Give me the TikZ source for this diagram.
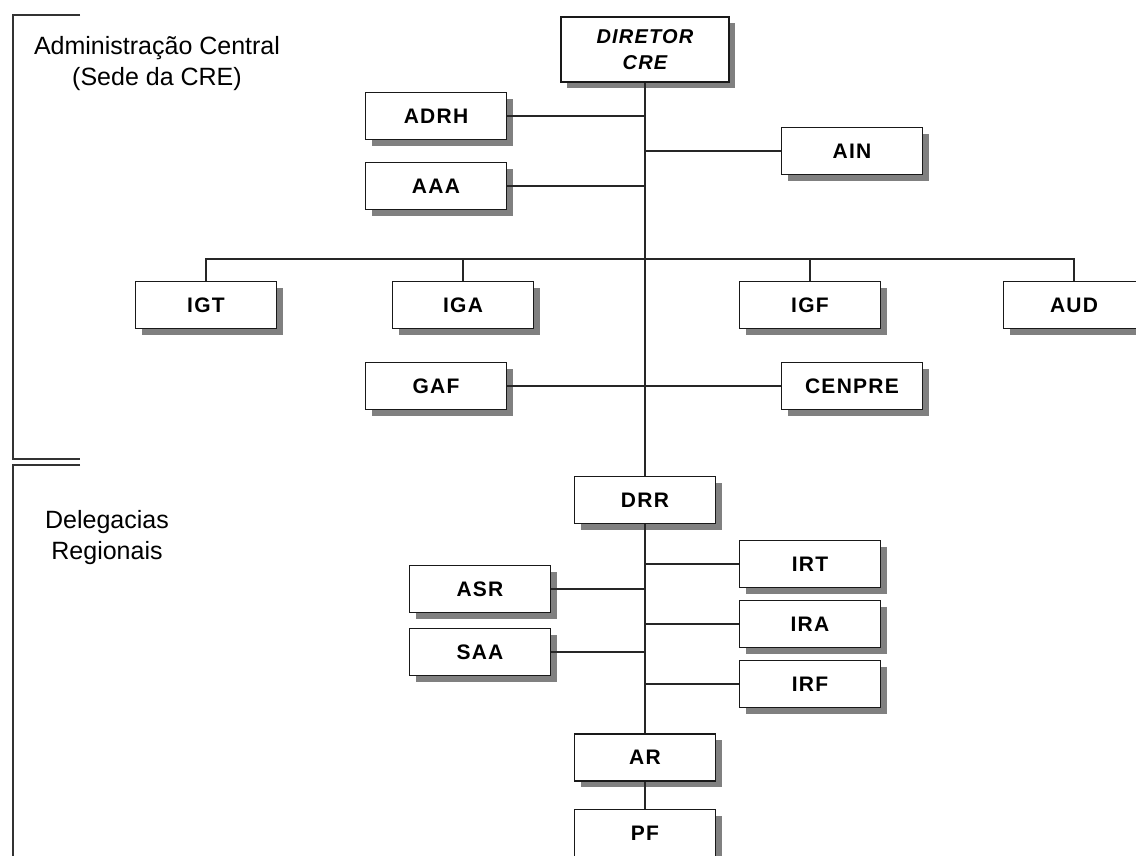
\documentclass[tikz,border=0pt]{standalone}
\usepackage{fontspec}
\setmainfont{Liberation Sans}
\newfontfamily\boxfont[LetterSpace=6]{Liberation Sans}
\usetikzlibrary{shadows}
\tikzset{
  orgbox/.style={draw=black!90, line width=1.9pt, fill=white, minimum width=141pt, minimum height=47pt, inner sep=0pt,
    font=\boxfont\bfseries\fontsize{21}{24}\selectfont,
    drop shadow={shadow xshift=6pt, shadow yshift=-6pt, fill=black!50, opacity=1}},
  conn/.style={line width=1.4pt, draw=black!85},
  bracket/.style={line width=1.5pt, draw=black!80},
  sidelabel/.style={align=center, font=\fontsize{25}{31}\selectfont}
}
\begin{document}
\begin{tikzpicture}[x=1pt,y=-1pt]
\useasboundingbox (0,0) rectangle (1136,855);
\clip (0,0) rectangle (1136,855);
\fill[white] (0,0) rectangle (1136,855);

% bracket lines
\draw[bracket] (80,15) -- (13,15) -- (13,459) -- (80,459);
\draw[bracket] (80,465) -- (13,465) -- (13,860);

% side labels (base = baseline of last line)
\node[sidelabel, anchor=base] (admin) at (157,85) {Administração Central\\(Sede da CRE)};
\node[sidelabel, anchor=base] (deleg) at (107,559) {Delegacias\\Regionais};

\coordinate (bus) at (645,259);
\node[orgbox, minimum width=168pt, minimum height=65pt, align=center, font=\boxfont\bfseries\itshape\fontsize{20}{26}\selectfont] (dir) at (645,49.5) {DIRETOR\\CRE};
\node[orgbox] (adrh) at (436,116) {ADRH};
\node[orgbox] (aaa) at (436,186) {AAA};
\node[orgbox] (ain) at (852,151) {AIN};
\node[orgbox] (igt) at (206,305) {IGT};
\node[orgbox] (iga) at (463,305) {IGA};
\node[orgbox] (igf) at (810,305) {IGF};
\node[orgbox] (aud) at (1074,305) {AUD};
\node[orgbox] (gaf) at (436,386) {GAF};
\node[orgbox] (cenpre) at (852,386) {CENPRE};
\node[orgbox] (drr) at (645,500) {DRR};
\node[orgbox] (irt) at (810,564) {IRT};
\node[orgbox] (ira) at (810,624) {IRA};
\node[orgbox] (irf) at (810,684) {IRF};
\node[orgbox] (asr) at (480,589) {ASR};
\node[orgbox] (saa) at (480,652) {SAA};
\node[orgbox] (ar) at (645,757.5) {AR};
\node[orgbox] (pf) at (645,833) {PF};

% main trunk
\draw[conn] (dir.south) -- (drr.north);
\draw[conn] (drr.south) -- (ar.north);
\draw[conn] (ar.south) -- (pf.north);

% upper branches
\draw[conn] (adrh.east) -- (adrh.east -| dir.south);
\draw[conn] (aaa.east) -- (aaa.east -| dir.south);
\draw[conn] (ain.west) -- (ain.west -| dir.south);

% inspection bus
\draw[conn] (igt.north) |- (bus) -| (aud.north);
\draw[conn] (iga.north) -- (iga.north |- bus);
\draw[conn] (igf.north) -- (igf.north |- bus);

% GAF - CENPRE
\draw[conn] (gaf.east) -- (cenpre.west);

% regional branches
\draw[conn] (irt.west) -- (irt.west -| drr.south);
\draw[conn] (ira.west) -- (ira.west -| drr.south);
\draw[conn] (irf.west) -- (irf.west -| drr.south);
\draw[conn] (asr.east) -- (asr.east -| drr.south);
\draw[conn] (saa.east) -- (saa.east -| drr.south);
\end{tikzpicture}
\end{document}
